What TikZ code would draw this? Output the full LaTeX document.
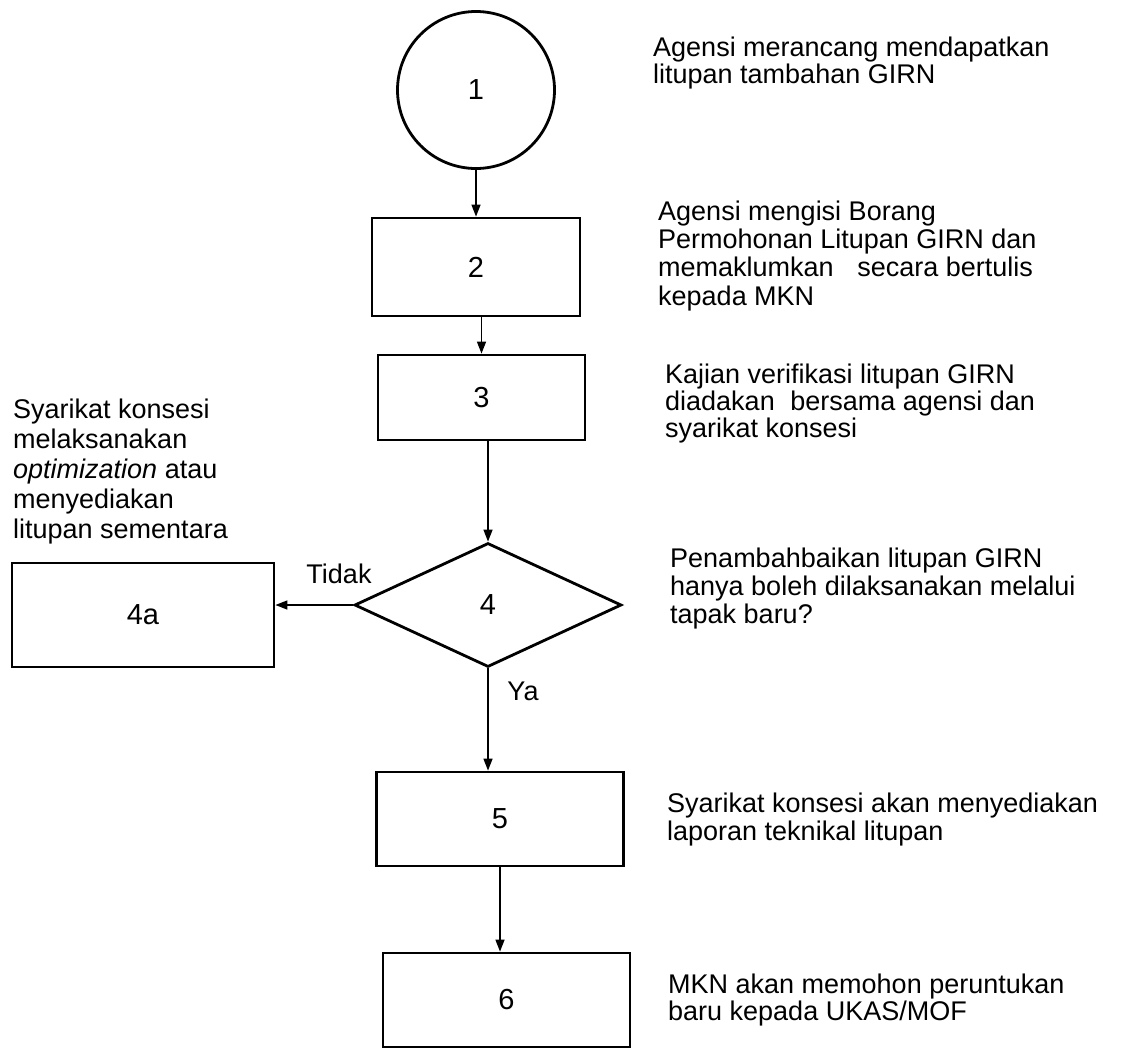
\documentclass[tikz,border=0pt]{standalone}
\usepackage{fontspec}
\setmainfont{Liberation Sans}
\usetikzlibrary{shapes.geometric,arrows.meta}
\begin{document}
\begin{tikzpicture}[x=1pt,y=-1pt,
  stepbox/.style={draw, line width=2.8pt, rectangle, inner sep=0pt, font=\fontsize{29}{31}\selectfont},
  startcirc/.style={draw, line width=2.8pt, circle, inner sep=0pt, minimum size=157pt, font=\fontsize{29}{31}\selectfont},
  decide/.style={draw, line width=2.8pt, diamond, inner sep=0pt, font=\fontsize{29}{31}\selectfont},
  arr/.style={line width=1.4pt, -{Triangle[length=12pt,width=9pt]}},
  note/.style={anchor=base west, align=left, inner sep=0pt},
  lbl/.style={inner sep=0pt, font=\fontsize{27}{29}\selectfont}
]
\useasboundingbox[fill=white] (0,0) rectangle (1125,1055);

% nodes
\node[startcirc] (c1) at (476,90) {1};
\node[stepbox, minimum width=208pt, minimum height=98pt] (b2) at (476,267) {2};
\node[stepbox, minimum width=207pt, minimum height=85pt] (b3) at (481.5,397.5) {3};
\node[decide, minimum width=267pt, minimum height=124pt] (d4) at (488,605) {4};
\node[stepbox, minimum width=262pt, minimum height=104pt] (b4a) at (143,615) {4a};
\node[stepbox, minimum width=247pt, minimum height=94pt] (b5) at (500,819) {5};
\node[stepbox, minimum width=247pt, minimum height=94pt] (b6) at (506.5,1000) {6};

% connectors
\draw[arr] (c1.south) -- (b2.north);
\draw[arr] (b3.north |- b2.south) -- (b3.north);
\draw[arr] (d4.north |- b3.south) -- (d4.north);
\draw[arr] (d4.west) -- (b4a.east |- d4.west);
\draw[arr] (d4.south) -- (d4.south |- b5.north);
\draw[arr] (b5.south) -- (b5.south |- b6.north);

% labels on connectors
\node[lbl] (tidak) at (339,574) {Tidak};
\node[lbl] (ya) at (523,691) {Ya};

% descriptions (anchored at the baseline of the last line)
\node[note, font=\fontsize{27}{26.5}\selectfont] (t1) at (653,83)
  {Agensi merancang mendapatkan\\litupan tambahan GIRN};
\node[note, font=\fontsize{27}{28.3}\selectfont] (t2) at (658,305)
  {Agensi mengisi Borang\\Permohonan Litupan GIRN dan\\memaklumkan\hspace{0.6em} secara bertulis\\kepada MKN};
\node[note, font=\fontsize{27}{27}\selectfont] (t3) at (665,437)
  {Kajian verifikasi litupan GIRN\\diadakan\hspace{0.3em} bersama agensi dan\\syarikat konsesi};
\node[note, font=\fontsize{27}{28}\selectfont] (t4) at (670,623)
  {Penambahbaikan litupan GIRN\\hanya boleh dilaksanakan melalui\\tapak baru?};
\node[note, font=\fontsize{27}{28}\selectfont] (t5) at (667,840)
  {Syarikat konsesi akan menyediakan\\laporan teknikal litupan};
\node[note, font=\fontsize{27}{27}\selectfont] (t6) at (668,1020)
  {MKN akan memohon peruntukan\\baru kepada UKAS/MOF};
\node[note, font=\fontsize{27}{30}\selectfont] (t4a) at (13,538)
  {Syarikat konsesi\\melaksanakan\\\textit{optimization} atau\\menyediakan\\litupan sementara};
\end{tikzpicture}
\end{document}
